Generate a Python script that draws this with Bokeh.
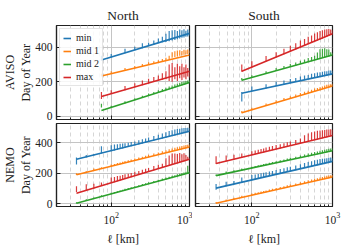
from bokeh.plotting import figure
from bokeh.layouts import column, row
from bokeh.models import Title, FixedTicker, Range1d, Legend, LegendItem, ColumnDataSource
from bokeh.embed import file_html
from bokeh.resources import INLINE

FONT = "Liberation Serif"
SERIES = ["min", "mid 1", "mid 2", "max"]
COLORS = ["#1f77b4", "#ff7f0e", "#2ca02c", "#d62728"]

X_TICKS = [100, 1000]
X_MINOR = [20, 30, 40, 50, 60, 70, 80, 90, 200, 300, 400, 500, 600, 700, 800, 900]
Y_TICKS = [0, 200, 400]

# length scales (km)
AV_L = [75, 100, 150, 200, 250, 300, 350, 400, 450, 500, 550, 600, 650, 700, 750, 800, 850, 900, 950, 1000]
NE_L = [36, 48, 60, 75, 100, 110, 120, 130, 140, 150, 165, 180, 200, 225, 250, 275, 300, 350, 400, 450,
        500, 550, 600, 650, 700, 750, 800, 850, 900, 950, 1000]
AV_FIT_L = [75, 1000]
NE_FIT_L = [36, 1000]

# ---- AVISO North ----
AN_FIT = {"min": [327, 482], "mid 1": [234, 356], "mid 2": [32, 196], "max": [114, 261]}
AN_LO = {
    "min": [322, 342, 366, 384, 396, 408, 416, 424, 430, 432, 436, 440, 444, 448, 452, 456, 458, 462, 464, 468],
    "mid 1": [232, 246, 265, 278, 289, 297, 305, 311, 316, 322, 328, 340, 345, 348, 352, 355, 358, 360, 362, 366],
    "mid 2": [50, 48, 74, 92, 106, 118, 128, 136, 143, 150, 156, 162, 167, 171, 176, 180, 184, 187, 191, 194],
    "max": [100, 128, 150, 168, 180, 190, 198, 206, 212, 215, 205, 200, 215, 205, 220, 210, 225, 215, 230, 225],
}
AN_HI = {
    "min": [352, 362, 392, 404, 425, 428, 440, 452, 462, 480, 496, 500, 502, 496, 504, 500, 506, 498, 504, 500],
    "mid 1": [246, 262, 280, 292, 304, 314, 320, 326, 332, 340, 352, 372, 378, 382, 384, 380, 386, 384, 388, 382],
    "mid 2": [72, 60, 86, 104, 118, 132, 140, 150, 158, 165, 172, 178, 184, 188, 194, 198, 202, 204, 208, 210],
    "max": [140, 150, 175, 192, 208, 218, 228, 236, 250, 262, 300, 310, 285, 305, 290, 305, 285, 300, 280, 265],
}

# ---- AVISO South ----
AS_FIT = {"min": [133, 246], "mid 1": [19, 175], "mid 2": [209, 356], "max": [261, 480]}
AS_LO = {
    "min": [85, 144, 161, 174, 184, 191, 198, 204, 209, 214, 218, 222, 225, 228, 231, 234, 237, 239, 242, 244],
    "mid 1": [17, 34, 59, 76, 90, 100, 110, 118, 125, 131, 137, 142, 147, 151, 156, 160, 163, 167, 170, 173],
    "mid 2": [207, 223, 246, 263, 275, 286, 294, 302, 309, 315, 320, 325, 330, 334, 345, 340, 350, 348, 352, 354],
    "max": [258, 283, 318, 342, 360, 375, 388, 398, 410, 418, 426, 434, 440, 446, 452, 458, 462, 468, 472, 476],
}
AS_HI = {
    "min": [140, 172, 186, 200, 208, 216, 222, 230, 236, 240, 246, 250, 254, 256, 258, 262, 262, 265, 266, 264],
    "mid 1": [30, 48, 74, 92, 106, 116, 126, 134, 142, 148, 154, 160, 164, 168, 172, 178, 182, 184, 186, 188],
    "mid 2": [222, 238, 262, 280, 292, 304, 312, 322, 330, 338, 345, 352, 370, 390, 392, 395, 390, 388, 372, 368],
    "max": [300, 320, 350, 372, 392, 410, 425, 440, 450, 462, 470, 482, 488, 496, 500, 505, 506, 508, 505, 500],
}

# ---- NEMO North ----
NN_FIT = {"min": [293, 477], "mid 1": [191, 374], "mid 2": [4, 204], "max": [69, 293]}
NN_LO = {
    "min": [258, 305, 317, 330, 345, 351, 356, 360, 364, 368, 373, 378, 384, 390, 396, 401, 406, 415, 422, 429,
            435, 440, 445, 449, 453, 457, 461, 464, 467, 470, 473],
    "mid 1": [189, 205, 217, 229, 245, 250, 255, 260, 264, 268, 273, 278, 283, 290, 296, 301, 306, 314, 321, 328,
              334, 339, 344, 348, 352, 356, 360, 363, 366, 369, 372],
    "mid 2": [2, 19, 33, 46, 63, 69, 74, 79, 84, 88, 94, 99, 105, 112, 119, 124, 130, 139, 147, 154,
              160, 166, 171, 176, 181, 185, 189, 192, 196, 199, 202],
    "max": [78, 86, 101, 117, 136, 142, 148, 153, 159, 163, 170, 175, 183, 190, 198, 204, 210, 220, 229, 237,
            244, 251, 257, 262, 267, 272, 276, 280, 284, 288, 291],
}
NN_HI = {
    "min": [305, 320, 325, 378, 385, 390, 392, 395, 396, 398, 402, 406, 410, 418, 425, 430, 436, 446, 454, 462,
            470, 478, 484, 488, 492, 494, 496, 498, 498, 500, 498],
    "mid 1": [200, 214, 232, 240, 258, 262, 268, 272, 276, 282, 286, 292, 298, 304, 310, 316, 322, 330, 338, 345,
              352, 358, 364, 368, 372, 376, 380, 384, 386, 388, 390],
    "mid 2": [10, 30, 42, 56, 72, 78, 83, 88, 93, 98, 104, 109, 115, 122, 130, 135, 141, 150, 158, 166,
              172, 178, 184, 188, 194, 198, 202, 206, 210, 250, 214],
    "max": [115, 128, 132, 140, 172, 176, 182, 184, 190, 194, 198, 202, 210, 216, 224, 230, 236, 248, 256, 264,
            300, 318, 330, 330, 328, 334, 325, 332, 320, 310, 300],
}

# ---- NEMO South ----
NS_FIT = {"min": [103, 279], "mid 1": [4, 176], "mid 2": [185, 349], "max": [265, 449]}
NS_LO = {
    "min": [92, 116, 128, 140, 155, 160, 165, 169, 173, 177, 182, 186, 192, 198, 204, 209, 213, 221, 228, 235,
            240, 245, 250, 254, 258, 262, 265, 268, 271, 274, 277],
    "mid 1": [2, 17, 28, 40, 55, 60, 64, 68, 72, 76, 81, 85, 91, 97, 102, 107, 112, 120, 127, 133,
              138, 143, 148, 152, 156, 159, 162, 166, 168, 171, 174],
    "mid 2": [183, 197, 208, 219, 233, 238, 242, 246, 250, 253, 258, 262, 268, 273, 279, 283, 288, 295, 302, 308,
              313, 317, 322, 326, 329, 333, 336, 339, 342, 345, 347],
    "max": [262, 279, 291, 304, 319, 325, 330, 334, 338, 342, 347, 352, 358, 364, 370, 375, 380, 389, 396, 403,
            409, 414, 419, 423, 427, 431, 435, 438, 441, 444, 447],
}
NS_HI = {
    "min": [130, 145, 150, 172, 190, 192, 196, 200, 204, 208, 212, 216, 222, 228, 234, 240, 244, 252, 260, 268,
            274, 280, 286, 290, 294, 296, 298, 300, 302, 304, 300],
    "mid 1": [12, 28, 40, 52, 68, 72, 76, 80, 84, 88, 94, 98, 104, 110, 116, 122, 126, 134, 142, 148,
              154, 160, 164, 168, 172, 176, 180, 184, 186, 188, 190],
    "mid 2": [192, 212, 220, 232, 244, 249, 253, 257, 261, 265, 270, 274, 280, 286, 292, 297, 302, 310, 318, 324,
              330, 335, 340, 344, 348, 352, 356, 358, 362, 364, 366],
    "max": [312, 318, 322, 330, 345, 350, 356, 360, 364, 370, 375, 380, 386, 392, 398, 404, 410, 420, 430, 450,
            462, 470, 476, 480, 482, 484, 486, 488, 488, 490, 486],
}

INK = "#222222"


def make_panel(ell, fit_l, lo, hi, fit, width, height, mb_left, mb_right, mb_top, mb_bottom,
               y_lo, show_xlabels, show_ylabels, title=None, ylabels=None, legend=False):
    p = figure(width=width, height=height, x_axis_type="log",
               x_range=Range1d(20, 1000), y_range=Range1d(y_lo, 528),
               output_backend="svg", toolbar_location=None,
               min_border_left=mb_left, min_border_right=mb_right,
               min_border_top=mb_top, min_border_bottom=mb_bottom,
               background_fill_color="white", border_fill_color="white")
    p.outline_line_color = INK
    p.outline_line_width = 1.2

    p.xaxis.ticker = FixedTicker(ticks=X_TICKS, minor_ticks=X_MINOR)
    p.yaxis.ticker = FixedTicker(ticks=Y_TICKS, minor_ticks=[])
    for ax in (p.xaxis[0], p.yaxis[0]):
        ax.axis_line_color = INK
        ax.axis_line_width = 1.2
        ax.major_tick_in = 4
        ax.major_tick_out = 0
        ax.minor_tick_in = 2
        ax.minor_tick_out = 0
        ax.major_tick_line_color = INK
        ax.minor_tick_line_color = INK
        ax.major_label_text_font = FONT
        ax.major_label_text_font_size = "11.5px"
        ax.major_label_text_color = INK
        ax.axis_label_text_font = FONT
        ax.axis_label_text_font_style = "normal"
        ax.axis_label_text_font_size = "12px"
        ax.axis_label_text_color = INK
    p.yaxis.major_label_standoff = 4
    p.xaxis.major_label_standoff = 5
    if not show_xlabels:
        p.xaxis.major_label_text_font_size = "1px"
        p.xaxis.major_label_text_alpha = 0
        p.xaxis.major_label_standoff = 0
    else:
        p.xaxis.axis_label = "ℓ [km]"
        p.xaxis.axis_label_standoff = 5
    if not show_ylabels:
        p.yaxis.major_label_text_font_size = "1px"
        p.yaxis.major_label_text_alpha = 0
        p.yaxis.major_label_standoff = 0

    p.xgrid.grid_line_color = "#c4c4c4"
    p.xgrid.grid_line_width = 1
    p.xgrid.minor_grid_line_color = "#d6d6d6"
    p.xgrid.minor_grid_line_dash = "4 3"
    p.ygrid.grid_line_color = "#c4c4c4"
    p.ygrid.grid_line_width = 1

    if title is not None:
        p.title.text = title
        p.title.align = "center"
        p.title.text_font = FONT
        p.title.text_font_style = "normal"
        p.title.text_font_size = "13.5px"
        p.title.text_color = INK
        p.title.standoff = 6

    if ylabels is not None:
        for t in ylabels:
            p.add_layout(Title(text=t, align="center", text_font=FONT, text_font_style="normal",
                               text_font_size="12px", text_color=INK, standoff=0), "left")

    line_renderers = []
    for name, color in zip(SERIES, COLORS):
        src = ColumnDataSource(dict(x=ell, lo=lo[name], hi=hi[name]))
        p.segment(x0="x", y0="lo", x1="x", y1="hi", source=src, line_color=color,
                  line_width=1.2, line_alpha=0.9)
    for name, color in zip(SERIES, COLORS):
        r = p.line(fit_l, fit[name], line_color=color, line_width=1.6)
        line_renderers.append(r)

    if legend:
        leg = Legend(items=[LegendItem(label=n, renderers=[r]) for n, r in zip(SERIES, line_renderers)],
                     location="top_left")
        leg.label_text_font = FONT
        leg.label_text_font_size = "10px"
        leg.label_text_color = INK
        leg.glyph_width = 8
        leg.glyph_height = 10
        leg.label_height = 10
        leg.label_standoff = 5
        leg.spacing = 2
        leg.padding = 3
        leg.margin = 3
        leg.border_line_color = "#cccccc"
        leg.background_fill_alpha = 0.85
        p.add_layout(leg)
    return p


TOP_H = 122
BOT_H = 126
LEFT_W = 192
RIGHT_W = 155

tl = make_panel(AV_L, AV_FIT_L, AN_LO, AN_HI, AN_FIT, LEFT_W, TOP_H, 52, 3, 25, 3, -20,
                False, True, title="North", ylabels=["Day of Year", "AVISO"], legend=True)
tr = make_panel(AV_L, AV_FIT_L, AS_LO, AS_HI, AS_FIT, RIGHT_W, TOP_H, 3, 15, 25, 3, -20,
                False, False, title="South")
bl = make_panel(NE_L, NE_FIT_L, NN_LO, NN_HI, NN_FIT, LEFT_W, BOT_H, 52, 3, 1, 31, -18,
                True, True, ylabels=["Day of Year", "NEMO"])
br = make_panel(NE_L, NE_FIT_L, NS_LO, NS_HI, NS_FIT, RIGHT_W, BOT_H, 3, 15, 1, 31, -18,
                True, False)

layout = column(row(tl, tr), row(bl, br))
open("out.html", "w").write(file_html(layout, INLINE))
